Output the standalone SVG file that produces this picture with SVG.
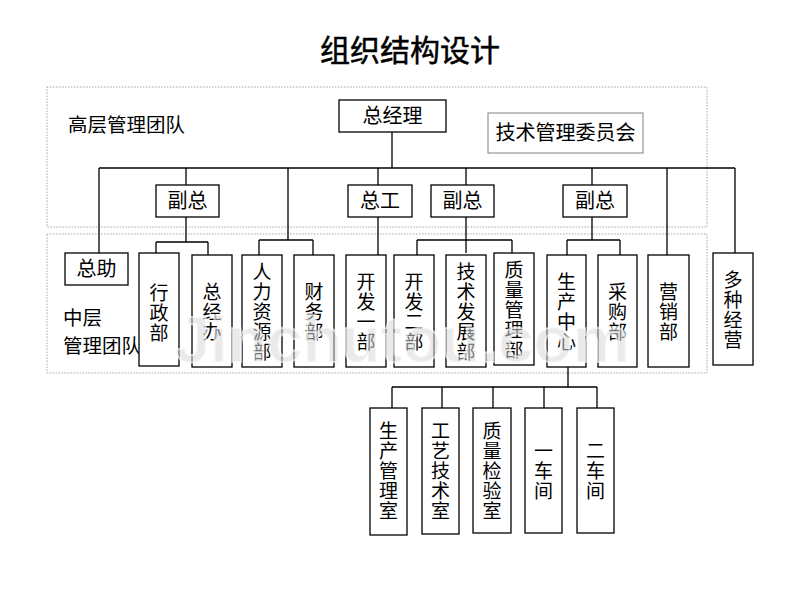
<svg xmlns="http://www.w3.org/2000/svg" width="800" height="600" viewBox="0 0 800 600">
<style>
text{font-family:"Liberation Sans","Noto Sans CJK SC",sans-serif;fill:#000}
.box{fill:#fff;stroke:#000;stroke-width:1.3}
.panel{fill:none;stroke:#a6a6a6;stroke-width:1;stroke-dasharray:1.5,1.5}
.ln{fill:none;stroke:#000;stroke-width:1.3}
.h{font-size:20px;text-anchor:middle}
.v{font-size:19px;text-anchor:middle}
.lab{font-size:19.5px}
</style>
<rect width="800" height="600" fill="#fff"/>
<text x="410" y="61" style="font-size:30px;text-anchor:middle;stroke:#000;stroke-width:0.5">组织结构设计</text>
<rect class="panel" x="47" y="87" width="660" height="140"/>
<rect class="panel" x="47" y="234" width="660" height="139"/>
<text class="lab" x="68" y="132">高层管理团队</text>
<text class="lab" x="63" y="325">中层</text>
<text class="lab" x="63" y="353">管理团队</text>
<g id="connectors">
<path class="ln" d="M392 132V168M99 168H735M99 168V253M186 168V185M288 168V240M378 168V185M466 168V185M592 168V185M667 168V255M735 168V253"/>
<path class="ln" d="M186 217V242M156 242H208M156 242V253M208 242V255"/>
<path class="ln" d="M259 240H313M259 240V255M313 240V255"/>
<path class="ln" d="M378 217V255"/>
<path class="ln" d="M466 217V253M417 240H512M417 240V255M512 240V253"/>
<path class="ln" d="M592 217V240M567 240H620M567 240V255M620 240V255"/>
<path class="ln" d="M568 367V387M392 387H597M392 387V408M442 387V408M493 387V408M544 387V408M597 387V408"/>
</g>
<g id="n-zjl"><rect class="box" x="339" y="100" width="107" height="32"/><text class="h" x="392.5" y="123">总经理</text></g>
<g id="n-jswyh"><rect x="488" y="113" width="155" height="40" fill="#fff" stroke="#808080" stroke-width="1"/><text x="565.5" y="140" style="font-size:20px;text-anchor:middle">技术管理委员会</text></g>
<g id="n-fz1"><rect class="box" x="156" y="185" width="63" height="32"/><text class="h" x="187.5" y="208">副总</text></g>
<g id="n-zg"><rect class="box" x="348" y="185" width="64" height="32"/><text class="h" x="380" y="208">总工</text></g>
<g id="n-fz2"><rect class="box" x="431" y="185" width="63" height="32"/><text class="h" x="462.5" y="208">副总</text></g>
<g id="n-fz3"><rect class="box" x="563" y="185" width="64" height="32"/><text class="h" x="595" y="208">副总</text></g>
<g id="n-zz"><rect class="box" x="65" y="253" width="63" height="32"/><text class="h" x="96.5" y="276">总助</text></g>
<g id="n-xzb"><rect class="box" x="139" y="253" width="40" height="113"/><text class="v" x="159" y="300">行</text><text class="v" x="159" y="320">政</text><text class="v" x="159" y="340">部</text></g>
<g id="n-zjb"><rect class="box" x="192" y="255" width="40" height="112"/><text class="v" x="212" y="299">总</text><text class="v" x="212" y="319">经</text><text class="v" x="212" y="339">办</text></g>
<g id="n-rlzy"><rect class="box" x="242" y="255" width="40" height="112"/><text class="v" x="262" y="279">人</text><text class="v" x="262" y="299">力</text><text class="v" x="262" y="319">资</text><text class="v" x="262" y="339">源</text><text class="v" x="262" y="359">部</text></g>
<g id="n-cwb"><rect class="box" x="294" y="255" width="40" height="112"/><text class="v" x="314" y="299">财</text><text class="v" x="314" y="319">务</text><text class="v" x="314" y="339">部</text></g>
<g id="n-kf1"><rect class="box" x="346" y="255" width="40" height="112"/><text class="v" x="366" y="289">开</text><text class="v" x="366" y="309">发</text><text class="v" x="366" y="329">一</text><text class="v" x="366" y="349">部</text></g>
<g id="n-kf2"><rect class="box" x="394" y="255" width="40" height="112"/><text class="v" x="414" y="289">开</text><text class="v" x="414" y="309">发</text><text class="v" x="414" y="329">二</text><text class="v" x="414" y="349">部</text></g>
<g id="n-jsfz"><rect class="box" x="446" y="255" width="40" height="112"/><text class="v" x="466" y="279">技</text><text class="v" x="466" y="299">术</text><text class="v" x="466" y="319">发</text><text class="v" x="466" y="339">展</text><text class="v" x="466" y="359">部</text></g>
<g id="n-zlgl"><rect class="box" x="494" y="253" width="40" height="112"/><text class="v" x="514" y="277">质</text><text class="v" x="514" y="297">量</text><text class="v" x="514" y="317">管</text><text class="v" x="514" y="337">理</text><text class="v" x="514" y="357">部</text></g>
<g id="n-sczx"><rect class="box" x="547" y="255" width="39" height="112"/><text class="v" x="566.5" y="289">生</text><text class="v" x="566.5" y="309">产</text><text class="v" x="566.5" y="329">中</text><text class="v" x="566.5" y="349">心</text></g>
<g id="n-cgb"><rect class="box" x="598" y="255" width="39" height="112"/><text class="v" x="617.5" y="299">采</text><text class="v" x="617.5" y="319">购</text><text class="v" x="617.5" y="339">部</text></g>
<g id="n-yxb"><rect class="box" x="648" y="255" width="41" height="112"/><text class="v" x="668.5" y="299">营</text><text class="v" x="668.5" y="319">销</text><text class="v" x="668.5" y="339">部</text></g>
<g id="n-dzjy"><rect class="box" x="713" y="253" width="40" height="112"/><text class="v" x="733" y="287">多</text><text class="v" x="733" y="307">种</text><text class="v" x="733" y="327">经</text><text class="v" x="733" y="347">营</text></g>
<g id="n-scgl"><rect class="box" x="370" y="408" width="37" height="127"/><text class="v" x="388.5" y="438">生</text><text class="v" x="388.5" y="458">产</text><text class="v" x="388.5" y="478">管</text><text class="v" x="388.5" y="498">理</text><text class="v" x="388.5" y="518">室</text></g>
<g id="n-gyjs"><rect class="box" x="422" y="408" width="37" height="126"/><text class="v" x="440.5" y="438">工</text><text class="v" x="440.5" y="458">艺</text><text class="v" x="440.5" y="478">技</text><text class="v" x="440.5" y="498">术</text><text class="v" x="440.5" y="518">室</text></g>
<g id="n-zljy"><rect class="box" x="473" y="408" width="38" height="125"/><text class="v" x="492" y="438">质</text><text class="v" x="492" y="458">量</text><text class="v" x="492" y="478">检</text><text class="v" x="492" y="498">验</text><text class="v" x="492" y="518">室</text></g>
<g id="n-1cj"><rect class="box" x="525" y="408" width="37" height="125"/><text class="v" x="543.5" y="458">一</text><text class="v" x="543.5" y="478">车</text><text class="v" x="543.5" y="498">间</text></g>
<g id="n-2cj"><rect class="box" x="577" y="408" width="37" height="125"/><text class="v" x="595.5" y="458">二</text><text class="v" x="595.5" y="478">车</text><text class="v" x="595.5" y="498">间</text></g>
<text x="402" y="362" style="font-size:64px;font-weight:bold;text-anchor:middle;fill:#d9d9d9;fill-opacity:0.55;stroke:#fff;stroke-opacity:0.6;stroke-width:2">Jinchutou.com</text>
</svg>
